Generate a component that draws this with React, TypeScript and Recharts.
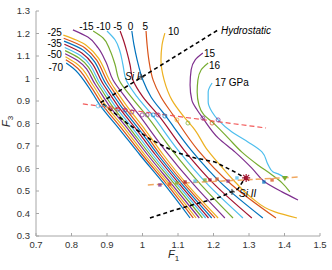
import { ComposedChart, Line, Scatter, XAxis, YAxis, Label } from 'recharts'

const xTicks = [0.7, 0.8, 0.9, 1, 1.1, 1.2, 1.3, 1.4, 1.5]
const yTicks = [0.3, 0.4, 0.5, 0.6, 0.7, 0.8, 0.9, 1, 1.1, 1.2, 1.3]

// isobars, [F1, F3] from top to bottom
const pM70 = [[0.785, 1.069], [0.804, 1.047], [0.844, 0.971], [0.88, 0.882], [0.937, 0.771], [0.993, 0.66], [1.063, 0.527], [1.134, 0.38]]
const pM65 = [[0.784, 1.083], [0.808, 1.058], [0.852, 0.971], [0.888, 0.882], [0.945, 0.771], [1.0, 0.66], [1.07, 0.527], [1.143, 0.38]]
const pM60 = [[0.783, 1.097], [0.812, 1.069], [0.86, 0.971], [0.896, 0.882], [0.953, 0.771], [1.007, 0.66], [1.077, 0.527], [1.151, 0.38]]
const pM55 = [[0.782, 1.11], [0.817, 1.08], [0.868, 0.971], [0.905, 0.882], [0.961, 0.771], [1.015, 0.66], [1.084, 0.527], [1.16, 0.38]]
const pM50 = [[0.782, 1.124], [0.821, 1.091], [0.876, 0.971], [0.913, 0.882], [0.968, 0.771], [1.022, 0.66], [1.092, 0.527], [1.169, 0.38]]
const pM45 = [[0.781, 1.138], [0.825, 1.102], [0.883, 0.971], [0.921, 0.882], [0.976, 0.771], [1.029, 0.66], [1.099, 0.527], [1.178, 0.38]]
const pM40 = [[0.78, 1.152], [0.829, 1.113], [0.891, 0.971], [0.929, 0.882], [0.984, 0.771], [1.037, 0.66], [1.106, 0.527], [1.186, 0.38]]
const pM35 = [[0.779, 1.166], [0.834, 1.125], [0.899, 0.971], [0.937, 0.882], [0.992, 0.771], [1.044, 0.66], [1.113, 0.527], [1.195, 0.38]]
const pM30 = [[0.778, 1.179], [0.838, 1.136], [0.907, 0.971], [0.945, 0.882], [1.0, 0.771], [1.051, 0.66], [1.12, 0.527], [1.204, 0.38]]
const pM25 = [[0.777, 1.193], [0.815, 1.17], [0.842, 1.147], [0.915, 0.971], [0.954, 0.882], [1.008, 0.771], [1.059, 0.66], [1.127, 0.527], [1.213, 0.38]]
const pM20 = [[0.804, 1.216], [0.846, 1.184], [0.875, 1.136], [0.897, 1.073], [0.917, 0.993], [0.951, 0.918], [0.99, 0.838], [1.063, 0.682], [1.145, 0.527], [1.232, 0.38]]
const pM15 = [[0.861, 1.211], [0.889, 1.18], [0.908, 1.127], [0.923, 1.06], [0.934, 0.993], [0.968, 0.918], [1.01, 0.838], [1.083, 0.682], [1.165, 0.527], [1.255, 0.38]]
const pM10 = [[0.9, 1.211], [0.923, 1.171], [0.937, 1.118], [0.945, 1.06], [0.954, 0.993], [0.985, 0.918], [1.027, 0.838], [1.1, 0.682], [1.185, 0.527], [1.283, 0.38]]
const pM5 = [[0.937, 1.211], [0.948, 1.162], [0.956, 1.118], [0.965, 1.06], [0.973, 0.993], [1.001, 0.918], [1.044, 0.838], [1.117, 0.682], [1.204, 0.527], [1.308, 0.38]]
const p0 = [[0.97, 1.211], [0.976, 1.149], [0.985, 1.082], [1.001, 0.993], [1.024, 0.918], [1.063, 0.838], [1.137, 0.682], [1.227, 0.527], [1.339, 0.38]]
const p5 = [[1.01, 1.211], [1.013, 1.149], [1.018, 1.082], [1.03, 0.993], [1.052, 0.918], [1.086, 0.838], [1.156, 0.682], [1.252, 0.527], [1.376, 0.38]]
const p10 = [[1.063, 1.202], [1.055, 1.149], [1.052, 1.082], [1.061, 0.993], [1.083, 0.904], [1.117, 0.829], [1.148, 0.771], [1.179, 0.691], [1.218, 0.616], [1.261, 0.54], [1.308, 0.469], [1.373, 0.407], [1.435, 0.38]]
const p15 = [[1.17, 1.113], [1.148, 1.082], [1.137, 1.038], [1.134, 0.971], [1.139, 0.904], [1.154, 0.86], [1.17, 0.824], [1.213, 0.736], [1.261, 0.673], [1.308, 0.602], [1.345, 0.54], [1.393, 0.496], [1.438, 0.46]]
const p16 = [[1.185, 1.069], [1.165, 1.038], [1.156, 0.993], [1.154, 0.94], [1.159, 0.882], [1.173, 0.838], [1.196, 0.807], [1.241, 0.736], [1.28, 0.673], [1.325, 0.616], [1.365, 0.571], [1.393, 0.536], [1.415, 0.496]]
const p17 = [[1.196, 0.98], [1.185, 0.94], [1.185, 0.896], [1.196, 0.851], [1.213, 0.816], [1.252, 0.762], [1.297, 0.718], [1.337, 0.673], [1.354, 0.616], [1.368, 0.584], [1.382, 0.576], [1.401, 0.558]]

const isobars = [pM70, pM65, pM60, pM55, pM50, pM45, pM40, pM35, pM30, pM25, pM20, pM15, pM10, pM5, p0, p5, p10, p15, p16, p17]

const palette = ['#0072bd', '#d95319', '#edb120', '#7e2f8e', '#77ac30', '#4dbeee', '#a2142f']

// dashed guide lines
const hydroLine = [[0.882, 0.893], [1.213, 1.216]]
const siLine = [[0.889, 0.887], [0.956, 0.802], [1.021, 0.731], [1.092, 0.673], [1.148, 0.647], [1.204, 0.629], [1.261, 0.584], [1.289, 0.558]]
const si2Line = [[1.021, 0.38], [1.092, 0.416], [1.218, 0.473], [1.269, 0.509], [1.289, 0.558]]
const redLine = [[0.832, 0.887], [1.348, 0.78]]
const orangeLine = [[1.015, 0.527], [1.438, 0.562]]

// markers
const circlePts = [[0.875, 0.878], [0.892, 0.873], [0.911, 0.869], [0.931, 0.864], [0.951, 0.86], [0.97, 0.851], [0.999, 0.838], [1.013, 0.838], [1.03, 0.838], [1.044, 0.838], [1.063, 0.833], [1.097, 0.816], [1.128, 0.802], [1.17, 0.824], [1.196, 0.802], [1.213, 0.816]]
const circleColors = [5, 5, 1, 6, 3, 3, 3, 3, 0, 3, 0, 2, 4, 3, 1, 3]
const squarePts = [[1.049, 0.527], [1.077, 0.531], [1.097, 0.536], [1.12, 0.54], [1.148, 0.544], [1.176, 0.549], [1.19, 0.549], [1.21, 0.553], [1.241, 0.544], [1.266, 0.558], [1.342, 0.54], [1.365, 0.549]]
const squareColors = [3, 1, 4, 6, 5, 4, 6, 1, 3, 5, 0, 1]
const trianglePts = [[1.401, 0.558]]
const plusPts = [[0.996, 1.007], [1.252, 0.496]]
const starPts = [[1.292, 0.558]]

// text
const curveLabels = ['-25', '-35', '-50', '-70', '-15', '-10', '-5', '0', '5', '10', '15', '16', '17 GPa']
const curveLabelPos = [[0.773, 1.204], [0.773, 1.157], [0.773, 1.108], [0.776, 1.05], [0.842, 1.229], [0.89, 1.229], [0.93, 1.229], [0.966, 1.229], [1.008, 1.229], [1.072, 1.209], [1.173, 1.111], [1.187, 1.056], [1.204, 0.984]]
const curveLabelAnchor = ['end', 'end', 'end', 'end', 'middle', 'middle', 'middle', 'middle', 'middle', 'start', 'start', 'start', 'start']
const noteLabels = ['Hydrostatic', 'Si I', 'Si II']
const noteLabelPos = [[1.221, 1.213], [0.951, 1.011], [1.272, 0.491]]

const FONT = '"Liberation Sans", Arial, sans-serif'
const AXIS = '#a6a6a6'

const xy = (pts: number[][]) => pts.map(([x, y]) => ({ x, y }))

const circleData = circlePts.map(([x, y], i) => ({ x, y, c: palette[circleColors[i]] }))
const squareData = squarePts.map(([x, y], i) => ({ x, y, c: palette[squareColors[i]] }))
const curveLabelData = curveLabelPos.map(([x, y], i) => ({ x, y, t: curveLabels[i], a: curveLabelAnchor[i] }))
const noteLabelData = noteLabelPos.map(([x, y], i) => ({ x, y, t: noteLabels[i] }))

const xLabel = (props: any) => {
  const vb = props.viewBox
  return (
    <text x={vb.x + vb.width / 2 - 10} y={vb.y + 22} fontFamily={FONT} fontSize={11} fill="#262626">
      <tspan fontStyle="italic">F</tspan>
      <tspan fontSize={8} dy={3}>1</tspan>
    </text>
  )
}

const yLabel = (props: any) => {
  const vb = props.viewBox
  const cx = 10
  const cy = vb.y + vb.height / 2 - 2
  return (
    <text x={cx} y={cy} transform={`rotate(-90, ${cx}, ${cy})`} textAnchor="middle" fontFamily={FONT} fontSize={11} fill="#262626">
      <tspan fontStyle="italic">F</tspan>
      <tspan fontSize={8} dy={3}>3</tspan>
    </text>
  )
}

export default function App() {
  const tickStyle = { fontSize: 9.5, fill: '#333', fontFamily: FONT }
  return (
    <div style={{ position: 'absolute', left: 0, top: 0, background: '#fff' }}>
      <ComposedChart width={332} height={270} margin={{ top: 11, right: 12, bottom: 14, left: 6 }}>
        <XAxis xAxisId="b" type="number" dataKey="x" domain={[0.7, 1.5]} ticks={xTicks} allowDataOverflow
          stroke={AXIS} tickSize={-3} tickMargin={8} height={20} tick={tickStyle}>
          <Label content={xLabel} />
        </XAxis>
        <XAxis xAxisId="t" orientation="top" type="number" dataKey="x" domain={[0.7, 1.5]} ticks={xTicks} allowDataOverflow
          stroke={AXIS} tickSize={-3} height={0} tick={false} />
        <YAxis yAxisId="l" type="number" dataKey="y" domain={[0.3, 1.3]} ticks={yTicks} allowDataOverflow
          stroke={AXIS} tickSize={-3} tickMargin={9} width={30} tick={tickStyle}>
          <Label content={yLabel} />
        </YAxis>
        <YAxis yAxisId="r" orientation="right" type="number" dataKey="y" domain={[0.3, 1.3]} ticks={yTicks} allowDataOverflow
          stroke={AXIS} tickSize={-3} width={0} tick={false} />

        {isobars.map((pts, i) => (
          <Line key={`iso-${i}`} xAxisId="b" yAxisId="l" data={xy(pts)} dataKey="y" type="monotoneY"
            stroke={palette[i % 7]} strokeWidth={1.2} dot={false} isAnimationActive={false} />
        ))}

        <Line xAxisId="b" yAxisId="l" data={xy(redLine)} dataKey="y" type="linear" stroke="#f25a5a"
          strokeWidth={1.2} strokeDasharray="5 3" dot={false} isAnimationActive={false} />
        <Line xAxisId="b" yAxisId="l" data={xy(orangeLine)} dataKey="y" type="linear" stroke="#f0a860"
          strokeWidth={1.5} strokeDasharray="6 3" dot={false} isAnimationActive={false} />
        <Line xAxisId="b" yAxisId="l" data={xy(hydroLine)} dataKey="y" type="linear" stroke="#000"
          strokeWidth={1.6} strokeDasharray="4 3" dot={false} isAnimationActive={false} />
        <Line xAxisId="b" yAxisId="l" data={xy(siLine)} dataKey="y" type="linear" stroke="#000"
          strokeWidth={1.6} strokeDasharray="4 3" dot={false} isAnimationActive={false} />
        <Line xAxisId="b" yAxisId="l" data={xy(si2Line)} dataKey="y" type="linear" stroke="#000"
          strokeWidth={1.6} strokeDasharray="4 3" dot={false} isAnimationActive={false} />

        <Scatter xAxisId="b" yAxisId="l" data={circleData} isAnimationActive={false}
          shape={(p: any) => <circle cx={p.cx} cy={p.cy} r={2} fill="none" stroke={p.payload.c} strokeWidth={0.9} strokeOpacity={0.8} />} />
        <Scatter xAxisId="b" yAxisId="l" data={squareData} isAnimationActive={false}
          shape={(p: any) => <rect x={p.cx - 1.7} y={p.cy - 1.7} width={3.4} height={3.4} fill={p.payload.c} fillOpacity={0.75} />} />
        <Scatter xAxisId="b" yAxisId="l" data={xy(trianglePts)} isAnimationActive={false}
          shape={(p: any) => <path d={`M${p.cx - 3},${p.cy - 2}L${p.cx + 3},${p.cy - 2}L${p.cx},${p.cy + 3}Z`} fill="#77ac30" />} />
        <Scatter xAxisId="b" yAxisId="l" data={xy(plusPts)} isAnimationActive={false}
          shape={(p: any) => <path d={`M${p.cx - 3},${p.cy}h6M${p.cx},${p.cy - 3}v6`} stroke="#333" strokeWidth={1} />} />
        <Scatter xAxisId="b" yAxisId="l" data={xy(starPts)} isAnimationActive={false}
          shape={(p: any) => (
            <path d={`M${p.cx - 4},${p.cy}h8M${p.cx},${p.cy - 4}v8M${p.cx - 3},${p.cy - 3}l6,6M${p.cx - 3},${p.cy + 3}l6,-6`}
              stroke="#a2142f" strokeWidth={1.2} />
          )} />

        <Scatter xAxisId="b" yAxisId="l" data={curveLabelData} isAnimationActive={false}
          shape={(p: any) => (
            <text x={p.cx} y={p.cy} textAnchor={p.payload.a} dominantBaseline="central" fontFamily={FONT} fontSize={10} fill="#000">
              {p.payload.t}
            </text>
          )} />
        <Scatter xAxisId="b" yAxisId="l" data={noteLabelData} isAnimationActive={false}
          shape={(p: any) => (
            <text x={p.cx} y={p.cy} dominantBaseline="central" fontFamily={FONT} fontSize={10} fontStyle="italic" fill="#000">
              {p.payload.t}
            </text>
          )} />
      </ComposedChart>
    </div>
  )
}
